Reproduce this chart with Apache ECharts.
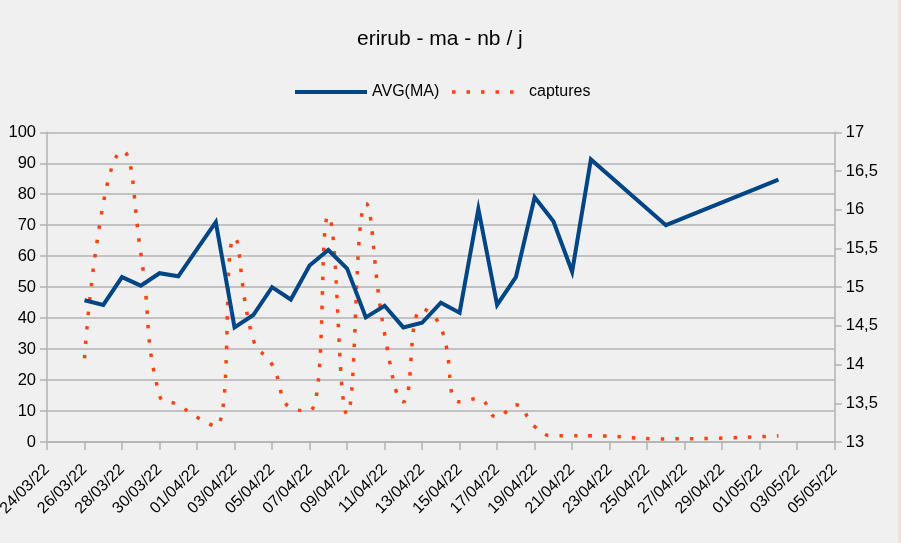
<!DOCTYPE html>
<html>
<head>
<meta charset="utf-8">
<script src="https://cdn.jsdelivr.net/npm/echarts@6/dist/echarts.min.js"></script>
<style>
  html, body { margin: 0; padding: 0; background: #f0f0f0; }
  #wrap { width: 898px; height: 543px; border-right: 3px solid #f1e1d6; }
  #chart { width: 898px; height: 543px; }
</style>
</head>
<body>
<div id="wrap"><div id="chart"></div></div>
<script>
const FONT = "'Liberation Sans', Arial, sans-serif";

const titleText = "erirub - ma - nb / j";
const seriesNames = ["AVG(MA)", "captures"];

const dates = [
  "24/03/22","25/03/22","26/03/22","27/03/22","28/03/22","29/03/22","30/03/22","31/03/22",
  "01/04/22","02/04/22","03/04/22","04/04/22","05/04/22","06/04/22","07/04/22","08/04/22",
  "09/04/22","10/04/22","11/04/22","12/04/22","13/04/22","14/04/22","15/04/22","16/04/22",
  "17/04/22","18/04/22","19/04/22","20/04/22","21/04/22","22/04/22","23/04/22","24/04/22",
  "25/04/22","26/04/22","27/04/22","28/04/22","29/04/22","30/04/22","01/05/22","02/05/22",
  "03/05/22","04/05/22","05/05/22"
];

// AVG(MA) on right axis (13..17)
const avgMA = [
  null, null, 14.83, 14.77, 15.13, 15.02, 15.18, 15.14,
  15.49, 15.84, 14.48, 14.64, 15.00, 14.84, 15.28, 15.48,
  15.24, 14.61, 14.76, 14.48, 14.54, 14.80, 14.67, 16.01,
  14.77, 15.13, 16.16, 15.85, 15.20, 16.65, null, null,
  null, 15.80, null, null, null, null, null, 16.39,
  null, null, null
];

// captures on left axis (0..100)
const captures = [
  null, null, 27, 77, 94, 61, 15, 12,
  8, 5, 66, 33, 25, 11, 10, 73,
  9, 77, 35, 13, 43, 37, 13, 14,
  8, 12, 5, 2, 2, 2, null, null,
  null, 1, null, null, null, null, null, 2,
  null, null, null
];

const leftTicks = { min: 0, max: 100, interval: 10 };
const rightTicks = { min: 13, max: 17, interval: 0.5 };

const chart = echarts.init(document.getElementById('chart'), null, { renderer: 'canvas' });

const axisGray = '#b3b3b3';
const blue = '#004586';
const orange = '#ff420e';

chart.setOption({
  backgroundColor: '#f0f0f0',
  animation: false,
  title: {
    text: titleText,
    left: 352,
    top: 24,
    textStyle: { fontFamily: FONT, fontSize: 21, fontWeight: 'normal', color: '#000' }
  },
  legend: {
    left: 288,
    top: 79,
    itemWidth: 72,
    itemHeight: 14,
    itemGap: 11,
    textStyle: { fontFamily: FONT, fontSize: 16, color: '#000' },
    data: [
      { name: seriesNames[0], itemStyle: { color: 'transparent', borderWidth: 0 },
        lineStyle: { color: blue, width: 4, type: 'solid' } },
      { name: seriesNames[1], itemStyle: { color: 'transparent', borderWidth: 0 },
        lineStyle: { color: orange, width: 3.5, type: [3.5, 11], cap: 'butt' } }
    ]
  },
  grid: { left: 47, right: 63.3, top: 132.3, bottom: 101, containLabel: false, outerBoundsMode: 'none' },
  xAxis: {
    type: 'category',
    data: dates,
    boundaryGap: false,
    axisLine: { lineStyle: { color: axisGray, width: 1.5 } },
    axisTick: { show: true, interval: 1, length: 8, lineStyle: { color: axisGray, width: 1.5 } },
    axisLabel: { interval: 1, rotate: 45, margin: 25, fontSize: 16, fontFamily: FONT, color: '#000' },
    splitLine: { show: false }
  },
  yAxis: [
    {
      type: 'value',
      position: 'left',
      min: leftTicks.min, max: leftTicks.max, interval: leftTicks.interval,
      axisLine: { show: true, lineStyle: { color: axisGray, width: 1.5 } },
      axisTick: { show: true, length: 7, lineStyle: { color: axisGray, width: 1.5 } },
      axisLabel: { margin: 11, fontSize: 16.5, fontFamily: FONT, color: '#000' },
      splitLine: { show: true, lineStyle: { color: axisGray, width: 1.5 } }
    },
    {
      type: 'value',
      position: 'right',
      min: rightTicks.min, max: rightTicks.max, interval: rightTicks.interval,
      axisLine: { show: true, lineStyle: { color: axisGray, width: 1.5 } },
      axisTick: { show: true, length: 7, lineStyle: { color: axisGray, width: 1.5 } },
      axisLabel: {
        margin: 11, fontSize: 16.5, fontFamily: FONT, color: '#000',
        formatter: v => String(v).replace('.', ',')
      },
      splitLine: { show: false }
    }
  ],
  series: [
    {
      name: seriesNames[0],
      type: 'line',
      yAxisIndex: 1,
      data: avgMA,
      connectNulls: true,
      symbol: 'none',
      color: blue,
      lineStyle: { color: blue, width: 4, join: 'miter' },
      z: 3
    },
    {
      name: seriesNames[1],
      type: 'line',
      yAxisIndex: 0,
      data: captures,
      connectNulls: true,
      smooth: 0.5,
      symbol: 'none',
      color: orange,
      lineStyle: { color: orange, width: 3.5, type: [3.5, 11], cap: 'butt' },
      z: 2
    }
  ]
});
</script>
</body>
</html>
